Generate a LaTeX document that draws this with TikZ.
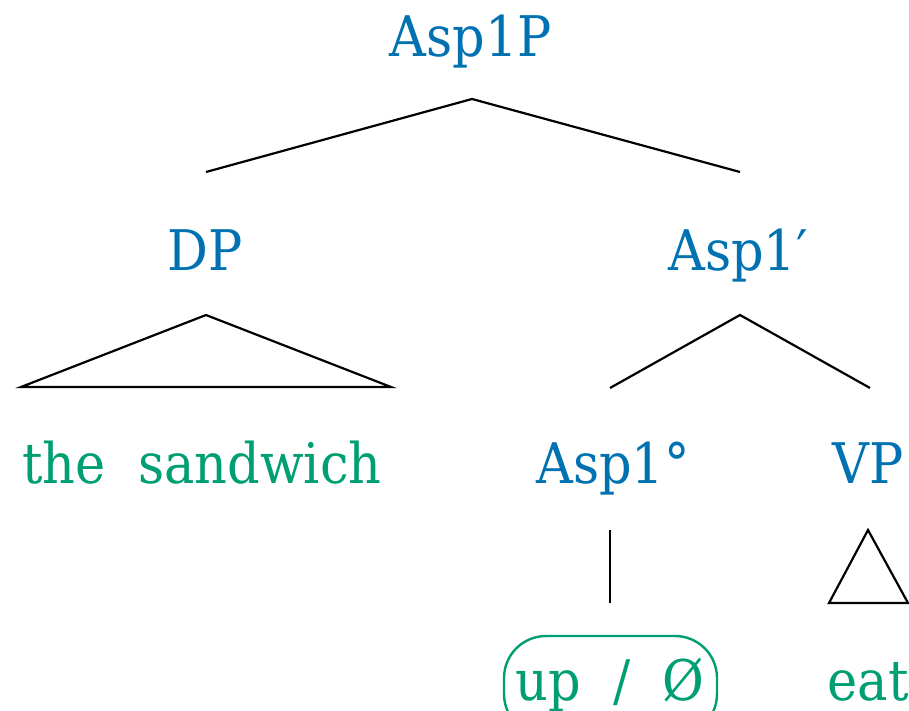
\documentclass[tikz,border=0pt]{standalone}
\usepackage{fontspec}
\setmainfont{DejaVu Serif}[FakeStretch=0.91]
\definecolor{catblue}{HTML}{0072B2}
\definecolor{wordgreen}{HTML}{009E73}
\begin{document}
\begin{tikzpicture}[x=1pt,y=-1pt,
  every node/.style={inner sep=0pt,outer sep=0pt,anchor=base,font=\fontsize{56}{64}\selectfont},
  cat/.style={text=catblue},
  word/.style={text=wordgreen},
  branch/.style={draw=black,line width=2.2pt,line join=miter},
  morph/.style={draw=wordgreen,line width=2.4pt,rounded corners=42pt}]
\useasboundingbox (0,0) rectangle (909,711);

% category labels
\node[cat] (asp1p) at (471,57) {Asp1P};
\node[cat] (dp) at (205,270) {DP};
\node[cat] (asp1bar) at (738,270) {Asp1′};
\node[cat] (asp1head) at (613,483) {Asp1°};
\node[cat] (vp) at (868,483) {VP};

% terminal strings
\node[word] (sandwich) at (202,483) {the\ \ sandwich};
\node[word] (upnull) at (610,700) {up\ \ /\ \ Ø};
\node[word] (eat) at (868,700) {eat};

% branch end points
\coordinate (apexTop) at (472,99);
\coordinate (leftTop) at (206,172);
\coordinate (rightTop) at (740,172);
\coordinate (apexDP) at (206,315);
\coordinate (dpL) at (21,387);
\coordinate (dpR) at (391,387);
\coordinate (apexBar) at (740,315);
\coordinate (barL) at (610,388);
\coordinate (barR) at (870,388);
\coordinate (headTop) at (610,530);
\coordinate (headBot) at (610,603);
\coordinate (apexVP) at (868,530);
\coordinate (vpL) at (829,603);
\coordinate (vpR) at (908,603);

% branches
\draw[branch] (leftTop) -- (apexTop) -- (rightTop);
\draw[branch] (apexDP) -- (dpL) -- (dpR) -- cycle;
\draw[branch] (barL) -- (apexBar) -- (barR);
\draw[branch] (headTop) -- (headBot);
\draw[branch] (apexVP) -- (vpL) -- (vpR) -- cycle;

% box round the spell-out alternatives
\draw[morph] (504,636) rectangle (717,736);
\end{tikzpicture}
\end{document}
